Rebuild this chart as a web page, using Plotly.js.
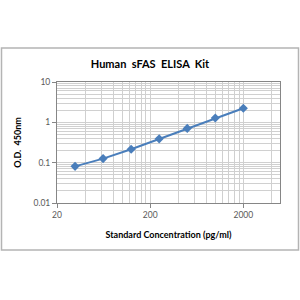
<!DOCTYPE html>
<html>
<head>
<meta charset="utf-8">
<script src="https://cdn.plot.ly/plotly-3.0.1.min.js"></script>
<style>html,body{margin:0;padding:0;background:#fff;}#chart{width:300px;height:300px;}</style>
</head>
<body>
<div id="chart"></div>
<script>
// Data
const concentration = [31.25, 62.5, 125, 250, 500, 1000, 2000];
const odValues = [0.081, 0.126, 0.215, 0.389, 0.708, 1.28, 2.24];

const xTickVals = [20, 200, 2000];
const xTickText = ["20", "200", "2000"];
const xMinorVals = [40, 60, 80, 100, 120, 140, 160, 180, 400, 600, 800, 1000, 1200, 1400, 1600, 1800, 4000];
const yTickVals = [0.01, 0.1, 1, 10];
const yTickText = ["0.01", "0.1", "1", "10"];
const yMinorVals = [0.02,0.03,0.04,0.05,0.06,0.07,0.08,0.09,0.2,0.3,0.4,0.5,0.6,0.7,0.8,0.9,2,3,4,5,6,7,8,9];

const trace = {
  x: concentration,
  y: odValues,
  type: "scatter",
  mode: "lines+markers",
  line: {color: "#4a7ebb", width: 2},
  marker: {symbol: "diamond", size: 7, color: "#4a7ebb"},
  showlegend: false,
  hoverinfo: "skip"
};

const layout = {
  width: 300, height: 300,
  margin: {l: 57, r: 20, t: 82, b: 97, pad: 0},
  paper_bgcolor: "#fff",
  plot_bgcolor: "#fff",
  font: {family: "Lato, 'Liberation Sans', sans-serif", color: "#595959", size: 8.5},
  title: {
    text: "Human\u00a0\u00a0sFAS\u00a0\u00a0ELISA\u00a0\u00a0Kit",
    font: {family: "Lato, sans-serif", size: 11, color: "#000", weight: "bold"},
    x: 0.5, xanchor: "center", y: 1 - 64/300, yanchor: "middle", yref: "container"
  },
  xaxis: {
    type: "log",
    range: [Math.log10(20), Math.log10(4950)],
    tickmode: "array", tickvals: xTickVals, ticktext: xTickText,
    ticks: "outside", ticklen: 4, tickcolor: "#868686",
    showgrid: true, gridcolor: "#d0d0d0", gridwidth: 1,
    minor: {tickmode: "array", tickvals: xMinorVals, showgrid: true, gridcolor: "#d0d0d0", ticks: ""},
    showline: true, linecolor: "#868686", linewidth: 1, mirror: true,
    zeroline: false,
    tickfont: {size: 8.5, color: "#595959", family: "Lato, sans-serif"},
    title: {text: "Standard Concentration (pg/ml)", font: {size: 9, color: "#000", family: "Lato, sans-serif", weight: "bold"}, standoff: 12}
  },
  yaxis: {
    type: "log",
    range: [-2, 1],
    tickmode: "array", tickvals: yTickVals, ticktext: yTickText,
    ticks: "outside", ticklen: 4, tickcolor: "#868686",
    showgrid: true, gridcolor: "#d0d0d0", gridwidth: 1,
    minor: {tickmode: "array", tickvals: yMinorVals, showgrid: true, gridcolor: "#d0d0d0", ticks: ""},
    showline: true, linecolor: "#868686", linewidth: 1, mirror: true,
    zeroline: false,
    tickfont: {size: 8.5, color: "#595959", family: "Lato, sans-serif"},
    title: {text: "O.D.\u00a0\u00a0450nm", font: {size: 9, color: "#000", family: "Lato, sans-serif", weight: "bold"}, standoff: 10}
  },
  shapes: [{
    type: "rect", xref: "paper", yref: "paper",
    x0: (1.5 - 57) / 223, x1: (298.5 - 57) / 223,
    y0: (203 - 250) / 121, y1: (203 - 48) / 121,
    line: {color: "#b4b4b4", width: 1.5}, fillcolor: "rgba(0,0,0,0)", layer: "below"
  }]
};

Plotly.newPlot("chart", [trace], layout, {staticPlot: true, displayModeBar: false});
</script>
</body>
</html>
